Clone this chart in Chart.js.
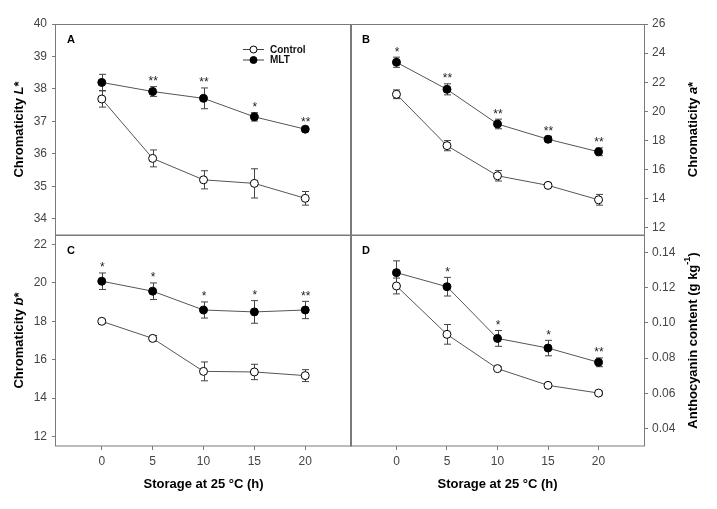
<!DOCTYPE html>
<html><head><meta charset="utf-8">
<script src="https://cdn.jsdelivr.net/npm/chart.js@4"></script>
<style>
body{margin:0;background:#fff}
.wrap{position:relative;width:717px;height:509px;background:#fff}
canvas{position:absolute;left:0;top:0}
</style>
</head><body>
<div class="wrap">
<canvas id="cA" width="717" height="509"></canvas>
<canvas id="cB" width="717" height="509"></canvas>
<canvas id="cC" width="717" height="509"></canvas>
<canvas id="cD" width="717" height="509"></canvas>
</div>
<script>
// ---- data ----
const hours = [0, 5, 10, 15, 20];
const xTicks = [0, 5, 10, 15, 20];

const lControl = [37.69, 35.86, 35.20, 35.09, 34.63];
const lControlErr = [0.25, 0.26, 0.28, 0.45, 0.21];
const lMLT = [38.20, 37.92, 37.71, 37.14, 36.76];
const lMLTErr = [0.25, 0.15, 0.32, 0.13, 0.05];
const lStars = ['', '**', '**', '*', '**'];
const lTicks = [34, 35, 36, 37, 38, 39, 40];

const aControl = [21.17, 17.64, 15.57, 14.91, 13.92];
const aControlErr = [0.30, 0.35, 0.36, 0.15, 0.37];
const aMLT = [23.37, 21.51, 19.13, 18.08, 17.22];
const aMLTErr = [0.35, 0.38, 0.33, 0.20, 0.27];
const aStars = ['*', '**', '**', '**', '**'];
const aTicks = [12, 14, 16, 18, 20, 22, 24, 26];

const bControl = [18.00, 17.11, 15.39, 15.36, 15.17];
const bControlErr = [0.10, 0.15, 0.49, 0.40, 0.31];
const bMLT = [20.09, 19.57, 18.59, 18.49, 18.59];
const bMLTErr = [0.43, 0.43, 0.42, 0.59, 0.45];
const bStars = ['*', '*', '*', '*', '**'];
const bTicks = [12, 14, 16, 18, 20, 22];

const antControl = [0.1210, 0.0935, 0.0740, 0.0645, 0.0601];
const antControlErr = [0.0045, 0.0056, 0.0010, 0.0010, 0.0010];
const antMLT = [0.1286, 0.1206, 0.0912, 0.0857, 0.0776];
const antMLTErr = [0.0067, 0.0053, 0.0045, 0.0044, 0.0025];
const antStars = ['', '*', '*', '*', '**'];
const antTicks = [0.04, 0.06, 0.08, 0.10, 0.12, 0.14];

const seriesNames = ['Control', 'MLT'];
const xTitle = 'Storage at 25 °C (h)';

// ---- drawing helpers ----
const FF = "'Liberation Sans', Arial, sans-serif";
const FRAME = '#7a7a7a';

function drawRotTitle(ctx, cx, cy, parts) {
  ctx.save();
  let total = 0;
  parts.forEach(p => { ctx.font = p.f; p.w = ctx.measureText(p.t).width; total += p.w; });
  ctx.translate(cx, cy);
  ctx.rotate(-Math.PI / 2);
  let x = -total / 2;
  ctx.fillStyle = '#000';
  ctx.textBaseline = 'middle';
  ctx.textAlign = 'left';
  parts.forEach(p => { ctx.font = p.f; ctx.fillText(p.t, x, p.dy || 0); x += p.w; });
  ctx.restore();
}

const panelPlugin = {
  id: 'panelPlugin',
  beforeDatasetsDraw(chart) {
    const ctx = chart.ctx, xs = chart.scales.x, ys = chart.scales.y;
    ctx.save();
    ctx.strokeStyle = '#444';
    ctx.lineWidth = 1;
    chart.data.datasets.forEach(ds => {
      ds.data.forEach((pt, i) => {
        const e = ds.err[i];
        const px = Math.round(xs.getPixelForValue(pt.x)) + 0.5;
        const yt = ys.getPixelForValue(pt.y + e), yb = ys.getPixelForValue(pt.y - e);
        ctx.beginPath();
        ctx.moveTo(px, yt); ctx.lineTo(px, yb);
        ctx.moveTo(px - 3.5, yt); ctx.lineTo(px + 3.5, yt);
        ctx.moveTo(px - 3.5, yb); ctx.lineTo(px + 3.5, yb);
        ctx.stroke();
      });
    });
    ctx.restore();
  },
  afterDatasetsDraw(chart) {
    const o = chart.options.plugins.panelPlugin;
    const ctx = chart.ctx, xs = chart.scales.x, ys = chart.scales.y, a = chart.chartArea;
    ctx.save();
    // frame
    ctx.strokeStyle = FRAME; ctx.lineWidth = 1;
    ctx.strokeRect(Math.round(a.left) - 0.5, Math.round(a.top) + 0.5, Math.round(a.right - a.left) + 1, Math.round(a.bottom - a.top) - 0.5);
    // stars
    const m = chart.data.datasets[1];
    ctx.fillStyle = '#222';
    ctx.font = '12px ' + FF;
    ctx.textAlign = 'center';
    ctx.textBaseline = 'alphabetic';
    o.stars.forEach((s, i) => {
      if (!s) return;
      const px = xs.getPixelForValue(m.data[i].x);
      const py = ys.getPixelForValue(m.data[i].y + m.err[i]);
      ctx.fillText(s, px + 0.5, py - 1.5);
    });
    // panel letter
    ctx.fillStyle = '#000';
    ctx.font = 'bold 11px ' + FF;
    ctx.textAlign = 'left'; ctx.textBaseline = 'middle';
    ctx.fillText(o.letter, a.left + 11, a.top + 16);
    // y title
    drawRotTitle(ctx, o.titleX, (a.top + a.bottom) / 2, o.title);
    // legend
    if (o.legend) {
      const lx = a.left + 187, ly = a.top + 25;
      [0, 1].forEach(k => {
        const y = ly + k * 10.5;
        ctx.strokeStyle = '#444'; ctx.lineWidth = 1;
        ctx.beginPath(); ctx.moveTo(lx, y + 0.5); ctx.lineTo(lx + 21, y + 0.5); ctx.stroke();
        ctx.beginPath(); ctx.arc(lx + 10.5, y + 0.5, 3.5, 0, Math.PI * 2);
        ctx.fillStyle = k === 0 ? '#fff' : '#000'; ctx.fill();
        ctx.strokeStyle = '#000'; ctx.stroke();
        ctx.fillStyle = '#111'; ctx.font = 'bold 10px ' + FF;
        ctx.textAlign = 'left'; ctx.textBaseline = 'middle';
        ctx.fillText(seriesNames[k], lx + 27, y + 1);
      });
    }
    ctx.restore();
  }
};

function makePanel(id, p) {
  const left = p.col === 0, top = p.row === 0;
  const padding = {
    left: left ? 11 : 351,
    right: left ? 366 : 3,
    top: top ? 24 : 235,
    bottom: top ? 274 : 3
  };
  new Chart(document.getElementById(id), {
    type: 'line',
    data: {
      datasets: [
        { label: seriesNames[0], data: hours.map((h, i) => ({ x: h, y: p.ctrl[i] })), err: p.ctrlErr,
          borderColor: '#555', borderWidth: 1, pointRadius: 4, pointBackgroundColor: '#fff',
          pointBorderColor: '#000', pointBorderWidth: 1, tension: 0 },
        { label: seriesNames[1], data: hours.map((h, i) => ({ x: h, y: p.mlt[i] })), err: p.mltErr,
          borderColor: '#555', borderWidth: 1, pointRadius: 4, pointBackgroundColor: '#000',
          pointBorderColor: '#000', pointBorderWidth: 1, tension: 0 }
      ]
    },
    options: {
      responsive: false, animation: false, devicePixelRatio: 1,
      layout: { padding, autoPadding: false },
      scales: {
        x: {
          type: 'linear', min: -4.5, max: 24.5, display: !top,
          afterBuildTicks: s => { s.ticks = xTicks.map(v => ({ value: v })); },
          afterFit: s => { s.height = top ? 0 : 60; },
          border: { display: false },
          grid: { drawOnChartArea: false, drawTicks: true, tickLength: 4, color: FRAME },
          ticks: { font: { size: 12, family: FF }, color: '#444', padding: 4, maxRotation: 0 },
          title: { display: true, text: xTitle, font: { size: 13, weight: 'bold', family: FF }, color: '#000', padding: { top: 0, bottom: 14 } }
        },
        y: {
          type: 'linear', position: left ? 'left' : 'right', min: p.min, max: p.max,
          afterBuildTicks: s => { s.ticks = p.ticks.map(v => ({ value: v })); },
          afterFit: s => { s.width = left ? 45 : 70; },
          border: { display: false },
          grid: { drawOnChartArea: false, drawTicks: true, tickLength: 4, color: FRAME },
          ticks: { font: { size: 12, family: FF }, color: '#444', padding: left ? 5 : 4,
                   callback: v => p.dec ? v.toFixed(p.dec) : String(v) }
        }
      },
      plugins: {
        legend: { display: false }, tooltip: { enabled: false },
        panelPlugin: { stars: p.stars, letter: p.letter, title: p.title, titleX: p.titleX, legend: !!p.legend }
      }
    },
    plugins: [panelPlugin]
  });
}

const TB = 'bold 13px ' + FF, TBI = 'italic bold 13px ' + FF;
makePanel('cA', { col: 0, row: 0, ctrl: lControl, ctrlErr: lControlErr, mlt: lMLT, mltErr: lMLTErr, stars: lStars,
  min: 33.5, max: 40, ticks: lTicks, letter: 'A', titleX: 19, legend: true,
  title: [{ t: 'Chromaticity ', f: TB }, { t: 'L', f: TBI }, { t: '*', f: TB }] });
makePanel('cB', { col: 1, row: 0, ctrl: aControl, ctrlErr: aControlErr, mlt: aMLT, mltErr: aMLTErr, stars: aStars,
  min: 11.5, max: 26, ticks: aTicks, letter: 'B', titleX: 693,
  title: [{ t: 'Chromaticity ', f: TB }, { t: 'a', f: TBI }, { t: '*', f: TB }] });
makePanel('cC', { col: 0, row: 1, ctrl: bControl, ctrlErr: bControlErr, mlt: bMLT, mltErr: bMLTErr, stars: bStars,
  min: 11.5, max: 22.5, ticks: bTicks, letter: 'C', titleX: 19,
  title: [{ t: 'Chromaticity ', f: TB }, { t: 'b', f: TBI }, { t: '*', f: TB }] });
makePanel('cD', { col: 1, row: 1, ctrl: antControl, ctrlErr: antControlErr, mlt: antMLT, mltErr: antMLTErr, stars: antStars,
  min: 0.03, max: 0.15, ticks: antTicks, letter: 'D', titleX: 693, dec: 2,
  title: [{ t: 'Anthocyanin content (g kg', f: TB }, { t: '-1', f: 'bold 9px ' + FF, dy: -5 }, { t: ')', f: TB }] });
</script>
</body></html>
